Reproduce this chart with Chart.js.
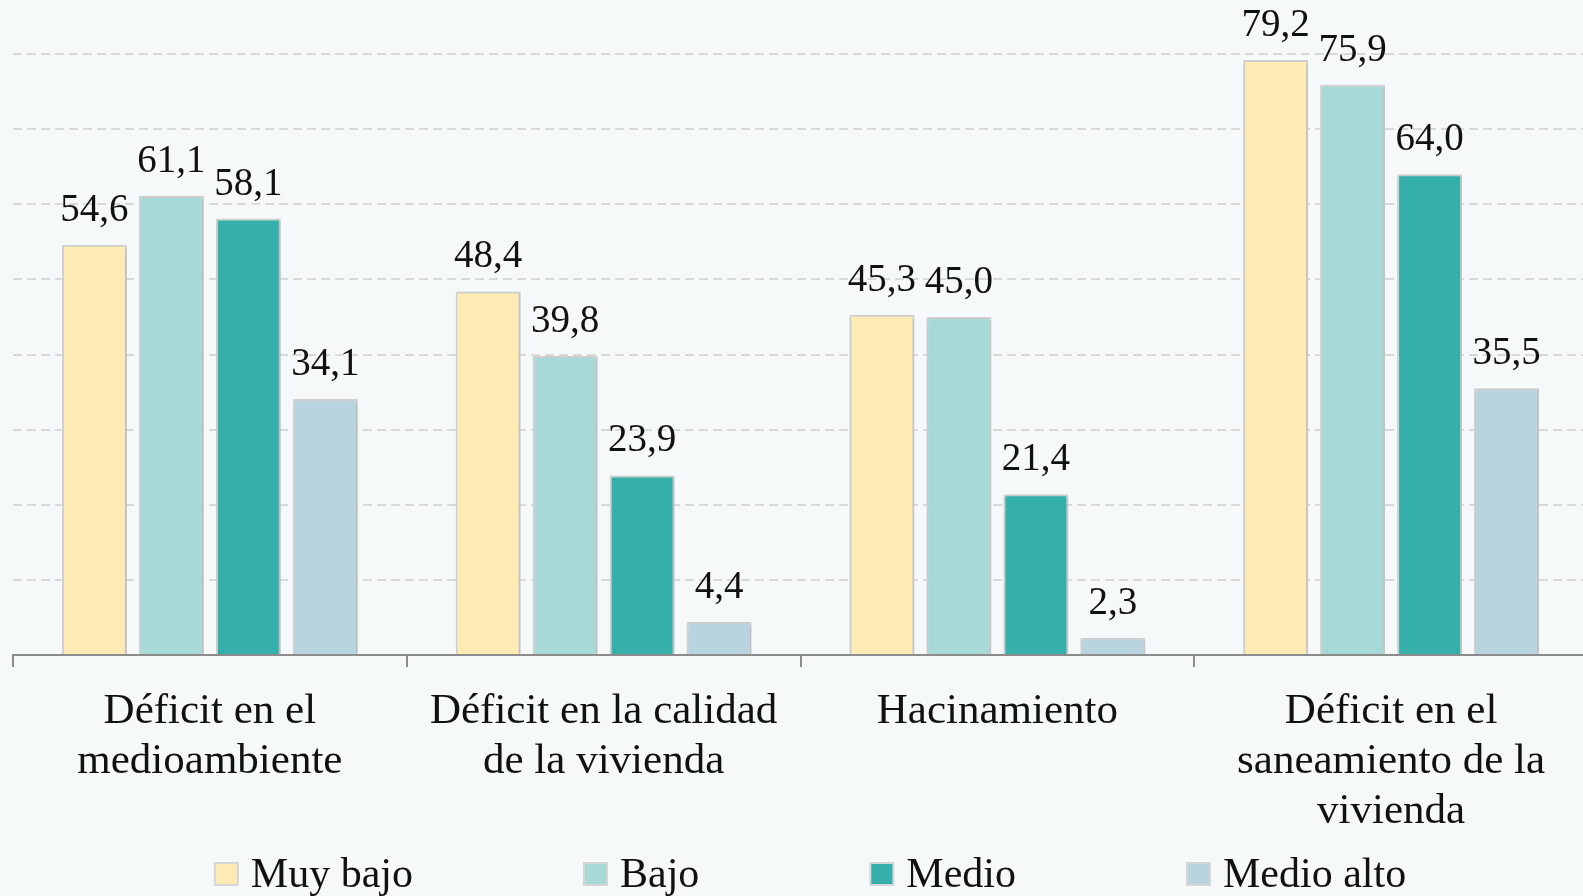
<!DOCTYPE html>
<html>
<head>
<meta charset="utf-8">
<script src="https://cdn.jsdelivr.net/npm/chart.js@4.4.0/dist/chart.umd.min.js"></script>
<style>
  html, body { margin: 0; padding: 0; background: #F5F9FA; overflow: hidden; }
  #wrap { width: 1588px; height: 896px; position: relative; }
</style>
</head>
<body>
<div id="wrap"><canvas id="c"></canvas></div>
<script>
const categories = [
  ["Déficit en el", "medioambiente"],
  ["Déficit en la calidad", "de la vivienda"],
  ["Hacinamiento"],
  ["Déficit en el", "saneamiento de la", "vivienda"]
];
const seriesNames = ["Muy bajo", "Bajo", "Medio", "Medio alto"];
const muyBajo = [54.6, 48.4, 45.3, 79.2];
const bajo = [61.1, 39.8, 45.0, 75.9];
const medio = [58.1, 23.9, 21.4, 64.0];
const medioAlto = [34.1, 4.4, 2.3, 35.5];
const colors = ["#FEEBB4", "#A7D9D7", "#35AFAA", "#B7D4DF"];

const FONT = "'Liberation Serif', 'Times New Roman', serif";

const valueLabels = {
  id: 'valueLabels',
  beforeDatasetsDraw(chart) {
    const ctx = chart.ctx;
    ctx.save();
    ctx.shadowColor = 'rgba(0,0,0,0.16)';
    ctx.shadowBlur = 4;
    ctx.shadowOffsetX = 1;
    ctx.shadowOffsetY = 1;
  },
  afterDatasetsDraw(chart) {
    const ctx = chart.ctx;
    ctx.restore();
    ctx.save();
    ctx.font = "39px " + FONT;
    ctx.fillStyle = "#111";
    ctx.textAlign = "center";
    ctx.textBaseline = "alphabetic";
    chart.data.datasets.forEach((ds, i) => {
      const meta = chart.getDatasetMeta(i);
      meta.data.forEach((el, j) => {
        const v = ds.data[j];
        ctx.fillText(v.toFixed(1).replace('.', ','), el.x, el.y - 24);
      });
    });
    ctx.restore();
  }
};

const customLegend = {
  id: 'customLegend',
  afterDraw(chart) {
    const ctx = chart.ctx;
    ctx.save();
    ctx.font = "42px " + FONT;
    const gapText = 37, gapItem = 170, box = 23;
    const widths = chart.data.datasets.map(ds => ctx.measureText(ds.label).width);
    const total = widths.reduce((a, w) => a + gapText + w, 0) + gapItem * (widths.length - 1);
    let x = 810 - total / 2;
    const yBox = 862, yText = 887;
    chart.data.datasets.forEach((ds, i) => {
      ctx.fillStyle = ds.backgroundColor;
      ctx.strokeStyle = "#D6D6D6";
      ctx.lineWidth = 2;
      ctx.fillRect(x + 1, yBox + 1, box, box - 1);
      ctx.strokeRect(x + 1, yBox + 1, box, box - 1);
      ctx.fillStyle = "#111";
      ctx.textAlign = "left";
      ctx.textBaseline = "alphabetic";
      ctx.fillText(ds.label, x + gapText, yText);
      x += gapText + widths[i] + gapItem;
    });
    ctx.restore();
  }
};

const data = [muyBajo, bajo, medio, medioAlto];
new Chart(document.getElementById('c'), {
  type: 'bar',
  data: {
    labels: categories,
    datasets: seriesNames.map((n, i) => ({
      label: n,
      data: data[i],
      backgroundColor: colors[i],
      borderColor: "#D3D3D3",
      borderWidth: 2,
      categoryPercentage: 0.782,
      barPercentage: 0.844
    }))
  },
  options: {
    responsive: true,
    maintainAspectRatio: false,
    animation: false,
    layout: { padding: { top: 54, left: 13, right: 0, bottom: 39 } },
    plugins: {
      tooltip: { enabled: false },
      legend: { display: false }
    },
    scales: {
      x: {
        grid: { drawOnChartArea: false, drawTicks: true, tickLength: 12, color: "#8C8C8C", lineWidth: 2 },
        border: { color: "#8C8C8C", width: 2 },
        ticks: {
          font: { family: FONT, size: 43, lineHeight: 50 / 43 },
          color: "#111",
          padding: 20,
          maxRotation: 0,
          autoSkip: false
        }
      },
      y: {
        min: 0, max: 80,
        ticks: { display: false, stepSize: 10 },
        grid: { drawTicks: false, color: "#D9D9D9", lineWidth: 2 },
        border: { display: false, dash: [9, 5] }
      }
    }
  },
  plugins: [valueLabels, customLegend]
});
</script>
</body>
</html>
